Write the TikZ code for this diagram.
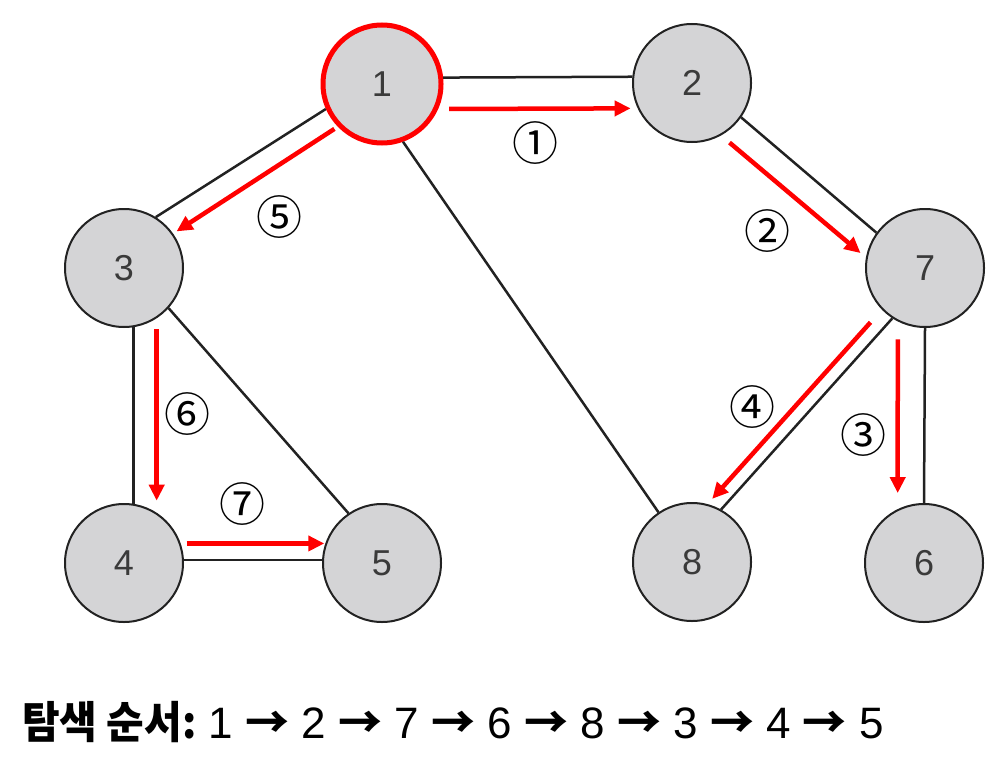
\documentclass[tikz,border=0pt]{standalone}
\usepackage{fontspec}
\setmainfont{Liberation Sans}
\newfontfamily\krfont{Noto Sans CJK KR}
\usetikzlibrary{arrows.meta}
\definecolor{nodefill}{HTML}{D4D4D6}
\definecolor{edgecol}{HTML}{222222}
\definecolor{textcol}{HTML}{3A3A3A}
\newcommand{\seqarrow}{{\krfont\bfseries →}}
\begin{document}
\begin{tikzpicture}[x=1pt,y=-1pt,
  vertex/.style={circle, draw=edgecol, line width=2pt, fill=nodefill, minimum size=118pt, inner sep=0pt,
    font=\fontsize{36}{36}\selectfont, text=textcol},
  firstvertex/.style={draw=red, line width=5pt},
  graphedge/.style={draw=edgecol, line width=2.5pt},
  visit/.style={draw=red, line width=4.5pt, -{Triangle[length=16pt,width=15pt]}},
  numlabel/.style={font=\krfont\fontsize{46}{46}\selectfont, inner sep=0pt}
]
\useasboundingbox (0,0) rectangle (1008,773);

% vertices
\node[vertex, firstvertex] (n1) at (382,84) {1};
\node[vertex] (n2) at (692,83) {2};
\node[vertex] (n3) at (124,268) {3};
\node[vertex] (n7) at (925,268) {7};
\node[vertex] (n4) at (124,563) {4};
\node[vertex] (n5) at (382,563) {5};
\node[vertex] (n8) at (692,562) {8};
\node[vertex] (n6) at (924,563) {6};

% graph edges
\draw[graphedge] (n1.6) -- (n2.174);
\draw[graphedge] (n2.-35) -- (n7.144);
\draw[graphedge] (n1.204) -- (n3.58);
\draw[graphedge] (n1.-70) -- (n8.124);
\draw[graphedge] (n7.237) -- (n8.61);
\draw[graphedge] (n7.270) -- (n6.90);
\draw[graphedge] (n3.-81) -- (n4.81);
\draw[graphedge] (n3.-42) -- (n5.124);
\draw[graphedge] (n4.3) -- (n5.177);

% visiting order arrows
\draw[visit, shorten <=11pt, shorten >=7pt] (n1.-24) -- (n2.205);
\draw[visit, shorten <=11pt, shorten >=7pt] (n2.-61) -- (n7.170);
\draw[visit, shorten <=18pt, shorten >=16pt] (n7.243) -- (n6.116);
\draw[visit, shorten <=17pt, shorten >=7pt] (n7.224) -- (n8.75);
\draw[visit, shorten <=4pt, shorten >=4pt] (n1.224) -- (n3.35);
\draw[visit, shorten <=11pt, shorten >=12pt] (n3.-57) -- (n4.57);
\draw[visit, shorten <=6pt, shorten >=1pt] (n4.19) -- (n5.161);

% order labels
\node[numlabel] (l1) at (535,143) {①};
\node[numlabel] (l2) at (767,231) {②};
\node[numlabel] (l3) at (863,435) {③};
\node[numlabel] (l4) at (752,407) {④};
\node[numlabel] (l5) at (279,217) {⑤};
\node[numlabel] (l6) at (187,414) {⑥};
\node[numlabel] (l7) at (242,504) {⑦};

% search order
\node[anchor=base west, inner sep=0pt, font=\fontsize{44}{44}\selectfont] (order) at (22,738)
  {\scalebox{0.93}[1]{\krfont\bfseries 탐색 순서:} 1 \seqarrow{} 2 \seqarrow{} 7 \seqarrow{} 6 \seqarrow{} 8 \seqarrow{} 3 \seqarrow{} 4 \seqarrow{} 5};
\end{tikzpicture}
\end{document}
